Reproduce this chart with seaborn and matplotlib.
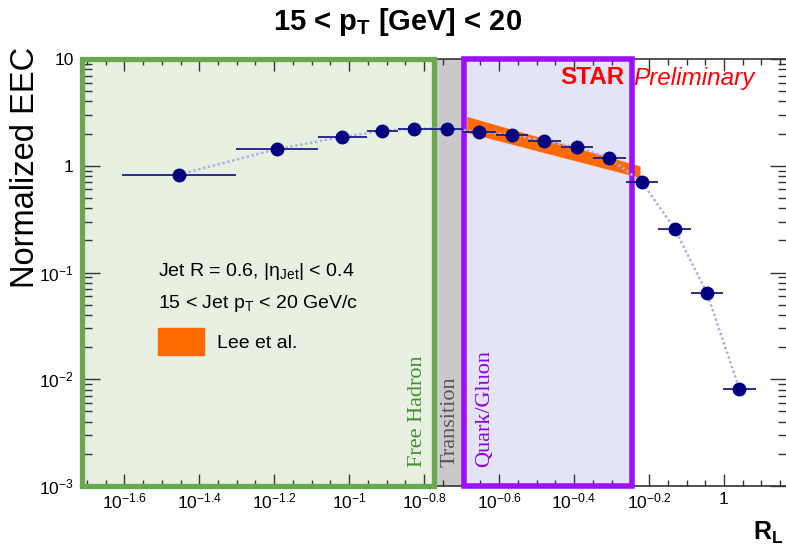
import numpy as np
import pandas as pd
import matplotlib
matplotlib.use("Agg")
import matplotlib.pyplot as plt
import matplotlib.transforms as mtransforms
from matplotlib.patches import Rectangle
from matplotlib.ticker import NullFormatter
import seaborn as sns

# ---- EEC data: 15 < jet pT < 20 GeV ----
r_center = [0.0351, 0.0640, 0.0955, 0.1222, 0.1492, 0.1824, 0.2224, 0.2719,
            0.3317, 0.4054, 0.4943, 0.6043, 0.7387, 0.9007, 1.099]
r_low = [0.0247, 0.0499, 0.0824, 0.1114, 0.1349, 0.1660, 0.2012, 0.2465,
         0.2999, 0.3674, 0.4471, 0.5476, 0.6668, 0.8166, 0.9941]
r_high = [0.0499, 0.0824, 0.1114, 0.1349, 0.1660, 0.2012, 0.2465, 0.2999,
          0.3674, 0.4471, 0.5476, 0.6668, 0.8166, 0.9941, 1.217]
eec = [0.827, 1.43, 1.86, 2.11, 2.23, 2.23, 2.09, 1.96,
       1.70, 1.50, 1.18, 0.700, 0.257, 0.064, 0.00815]

# Lee et al. perturbative band
theory_r = [0.2059, 0.597]
theory_hi = [2.90, 0.995]
theory_lo = [2.05, 0.774]

# region boundaries in R_L
hadron_edge = 0.1683
parton_left = 0.2025
parton_right = 0.5683

# axis ticks
x_major_exp = [-1.6, -1.4, -1.2, -1.0, -0.8, -0.6, -0.4, -0.2, 0.0]
x_major_labels = [r"$10^{-1.6}$", r"$10^{-1.4}$", r"$10^{-1.2}$", r"$10^{-1}$",
                  r"$10^{-0.8}$", r"$10^{-0.6}$", r"$10^{-0.4}$", r"$10^{-0.2}$", "1"]
y_major = [1e-3, 1e-2, 1e-1, 1, 10]
y_major_labels = [r"$10^{-3}$", r"$10^{-2}$", r"$10^{-1}$", "1", "10"]

df = pd.DataFrame({"R": r_center, "EEC": eec})

sns.set_theme(style="ticks")
plt.rcParams["font.family"] = ["Liberation Sans", "DejaVu Sans"]
plt.rcParams["mathtext.fontset"] = "custom"
plt.rcParams["mathtext.rm"] = "Liberation Sans"
plt.rcParams["mathtext.it"] = "Liberation Sans:italic"
plt.rcParams["mathtext.bf"] = "Liberation Sans:bold"
plt.rcParams["text.color"] = "black"
plt.rcParams["xtick.labelcolor"] = "black"
plt.rcParams["ytick.labelcolor"] = "black"

W, H = 786, 553
fig = plt.figure(figsize=(W / 100, H / 100), dpi=100)
fig.patch.set_facecolor("white")
ax = fig.add_axes([82 / W, 1 - 486 / H, (788 - 82) / W, (486 - 59) / H])
ax.set_facecolor("white")
ax.set_xscale("log")
ax.set_yscale("log")
x_lo, x_hi = 10 ** -1.7129, 10 ** 0.1708
ax.set_xlim(x_lo, x_hi)
ax.set_ylim(1e-3, 10)

green = "#6aa84f"
purple = "#9b11ff"
orange = "#ff6a00"
navy = "#000080"

# region shading
ax.axvspan(x_lo, hadron_edge, color="#e8f0e1", zorder=0.5, lw=0)
ax.axvspan(hadron_edge, parton_left, color="#c9c9c9", zorder=0.5, lw=0)
ax.axvspan(parton_left, parton_right, color="#e4e4f8", zorder=0.5, lw=0)

# theory band
ax.fill_between(theory_r, theory_lo, theory_hi, color=orange, lw=0, zorder=1)

# region frames
trans = mtransforms.blended_transform_factory(ax.transData, ax.transAxes)
ax.add_patch(Rectangle((x_lo, 0.0), hadron_edge - x_lo, 1.0, transform=trans,
                       fill=False, edgecolor=green, lw=3.8, zorder=3, clip_on=False))
ax.add_patch(Rectangle((parton_left, 0.0), parton_right - parton_left, 1.0, transform=trans,
                       fill=False, edgecolor=purple, lw=4.0, zorder=3, clip_on=False))

# data: connecting line, x-bin widths, markers
sns.lineplot(data=df, x="R", y="EEC", ax=ax, sort=False, estimator=None,
             color="#aab0ec", lw=1.8, linestyle=(0, (1, 1)), zorder=3.5)
xerr = [np.array(r_center) - np.array(r_low), np.array(r_high) - np.array(r_center)]
ax.errorbar(r_center, eec, xerr=xerr, fmt="none", ecolor="#1c1c8c",
            elinewidth=1.3, zorder=4)
sns.scatterplot(data=df, x="R", y="EEC", ax=ax, s=100, color=navy,
                edgecolor=navy, linewidth=0, zorder=5)

# ticks
ax.set_xticks([10 ** e for e in x_major_exp], x_major_labels)
x_minor = [10 ** (k * 0.05) for k in range(-34, 4)]
ax.set_xticks(x_minor, minor=True)
ax.xaxis.set_minor_formatter(NullFormatter())
ax.set_yticks(y_major, y_major_labels)
y_minor = [m * 10.0 ** p for p in range(-3, 1) for m in range(2, 10)]
ax.set_yticks(y_minor, minor=True)
ax.yaxis.set_minor_formatter(NullFormatter())
ax.tick_params(axis="x", which="major", direction="in", length=8.5, width=1.0,
               top=True, bottom=True, labelsize=12.5, pad=4, color="#333333")
ax.tick_params(axis="x", which="minor", direction="in", length=4.5, width=1.0,
               top=True, bottom=True, color="#333333")
ax.tick_params(axis="y", which="major", direction="in", length=13, width=1.0,
               left=True, right=True, labelsize=12.5, pad=6, color="#333333")
ax.tick_params(axis="y", which="minor", direction="in", length=7, width=1.0,
               left=True, right=True, color="#333333")
for s in ax.spines.values():
    s.set_color("#333333")
    s.set_linewidth(1.2)
ax.set_xlabel("")
ax.set_ylabel("")

# titles and axis labels
fig.text(398 / W, 1 - 22 / H, r"15 < p$_\mathbf{T}$ [GeV] < 20", ha="center", va="center",
         fontsize=21, fontweight="bold")
fig.text(26 / W, 1 - 167 / H, "Normalized EEC", rotation=90, ha="center", va="center",
         fontsize=23.5)
fig.text(768 / W, 1 - 533 / H, r"R$_\mathbf{L}$", ha="center", va="center",
         fontsize=18, fontweight="bold")

# STAR Preliminary
fig.text(560 / W, 1 - 78 / H, "STAR", ha="left", va="center", fontsize=17.5,
         fontweight="bold", color="#ff0000")
fig.text(633 / W, 1 - 78 / H, "Preliminary", ha="left", va="center", fontsize=17.5,
         fontstyle="italic", color="#ff0000")

# region names
fig.text(417 / W, 1 - 467 / H, "Free Hadron", rotation=90, ha="center", va="bottom",
         fontsize=16, family="Liberation Serif", color="#3f9230")
fig.text(450 / W, 1 - 467 / H, "Transition", rotation=90, ha="center", va="bottom",
         fontsize=16, family="Liberation Serif", color="#555555")
fig.text(485 / W, 1 - 467 / H, "Quark/Gluon", rotation=90, ha="center", va="bottom",
         fontsize=16, family="Liberation Serif", color="#8a00e6")

# selection text and legend
fig.text(158 / W, 1 - 272 / H, r"Jet R = 0.6, |η$_{\mathregular{Jet}}$| < 0.4",
         ha="left", va="center", fontsize=14)
fig.text(158 / W, 1 - 303 / H, r"15 < Jet p$_{\mathregular{T}}$ < 20 GeV/c",
         ha="left", va="center", fontsize=14)
fig.patches.append(Rectangle((158 / W, 1 - 355 / H), 46 / W, 27 / H,
                             transform=fig.transFigure, color=orange, figure=fig))
fig.text(217 / W, 1 - 343 / H, "Lee et al.", ha="left", va="center", fontsize=14)

fig.savefig("out.png", dpi=100)
